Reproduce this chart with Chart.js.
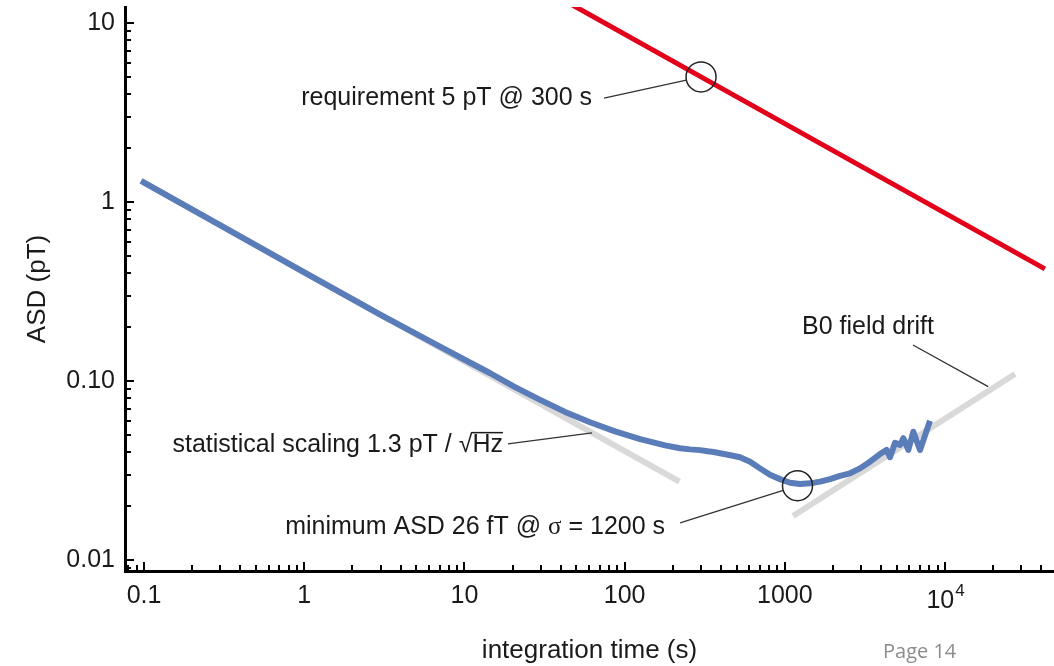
<!DOCTYPE html>
<html>
<head>
<meta charset="utf-8">
<title>ASD vs integration time</title>
<script src="https://cdn.jsdelivr.net/npm/chart.js@4.4.1/dist/chart.umd.min.js"></script>
<style>
  html, body { margin: 0; padding: 0; background: #fff; }
  #wrap { width: 1054px; height: 666px; position: relative; }
</style>
</head>
<body>
<div id="wrap"><canvas id="asd-chart"></canvas></div>
<script>
// Measured ASD (pT) against integration time (s)
const asdTime = [0.0958, 0.3, 1, 3, 5, 7.04, 10.1, 14.5, 20.7, 29.7, 42.5, 60.8, 87.1, 125, 179, 222,
  256, 296, 330, 360, 394, 450, 525, 607, 700, 808, 933, 1078, 1244, 1437, 1659, 1915, 2211,
  2553, 2947, 3402, 3929, 4326, 4536, 4875, 5237, 5493, 5902, 6341, 6982, 8061];
const asdValue = [1.311, 0.741, 0.405, 0.234, 0.1835, 0.1555, 0.131, 0.1105, 0.0925, 0.0785, 0.0672, 0.0588,
  0.0523, 0.0473, 0.0437, 0.0421, 0.0415, 0.0411, 0.0405, 0.0401, 0.0395, 0.0386, 0.0375, 0.0354,
  0.0325, 0.0299, 0.0283, 0.0270, 0.0266, 0.0268, 0.0274, 0.0283, 0.0295, 0.0305, 0.0325, 0.0354,
  0.0391, 0.0412, 0.0375, 0.0452, 0.0439, 0.0479, 0.0412, 0.0521, 0.0412, 0.0600];

// Statistical 1/sqrt(t) guide
const statTime = [0.1, 220];
const statASD = [1.283, 0.0274];

// B0 field drift guide
const driftTime = [1125, 27350];
const driftASD = [0.0176, 0.1095];

// Requirement line through 5 pT @ 300 s
const reqTime = [40, 300, 42000];
const reqASD = [13.7, 5, 0.423];

// Axis ranges and labelled ticks ('^' marks an exponent)
const xRange = [0.0761, 47900];
const yRange = [0.00868, 12.29];
const xTickValues = [0.1, 1, 10, 100, 1000, 10000];
const xTickLabels = ['0.1', '1', '10', '100', '1000', '10^4'];
const yTickValues = [0.01, 0.1, 1, 10];
const yTickLabels = ['0.01', '0.10', '1', '10'];

const sansFont = "'Liberation Sans', Arial, sans-serif";
const serifFont = "'Liberation Serif', 'Times New Roman', serif";
const ink = '#1a1a1a';

// Callouts: leader from `from` to `to`, optional ring around `to`
const callouts = [
  { parts: [['requirement 5 pT @ 300 s']], from: [74.4, 3.81], to: [300, 5], ring: true, dx: -12, dy: 0, align: 'right' },
  { parts: [['statistical scaling 1.3 pT / √Hz']], from: [18.7, 0.0445], to: [62.6, 0.0513], dx: -5, dy: 1, align: 'right', overline: 'Hz' },
  { parts: [['minimum ASD 26 fT @ '], ['σ', serifFont], [' = 1200 s']], from: [222, 0.0161], to: [1200, 0.026], ring: true, dx: -15, dy: 4, align: 'right' },
  { parts: [['B0 field drift']], from: [6310, 0.159], to: [18600, 0.093], dx: -45, dy: -18, align: 'center' },
];

const toPoints = (xs, ys) => xs.map((v, i) => ({ x: v, y: ys[i] }));

// inward major/minor tick marks on both log axes
const inwardTicks = {
  id: 'inwardTicks',
  afterDraw(chart) {
    const { ctx, chartArea: a, scales: { x, y } } = chart;
    ctx.save();
    ctx.strokeStyle = '#000';
    ctx.lineWidth = 2;
    ctx.beginPath();
    for (let e = -3; e <= 5; e++) {
      for (let m = 1; m <= 9; m++) {
        const v = m * Math.pow(10, e);
        const len = m === 1 ? 9 : 6;
        if (v >= x.min && v <= x.max) {
          const px = Math.round(x.getPixelForValue(v));
          ctx.moveTo(px, a.bottom);
          ctx.lineTo(px, a.bottom - len);
        }
        if (v >= y.min && v <= y.max) {
          const py = Math.round(y.getPixelForValue(v));
          ctx.moveTo(a.left, py);
          ctx.lineTo(a.left + len, py);
        }
      }
    }
    ctx.stroke();

    // tick labels with an exponent are set here, base plus raised power
    ctx.fillStyle = ink;
    ctx.textBaseline = 'middle';
    ctx.textAlign = 'left';
    xTickLabels.forEach((lab, i) => {
      if (!lab.includes('^')) return;
      const [base, pow] = lab.split('^');
      ctx.font = `25px ${sansFont}`;
      const wb = ctx.measureText(base).width;
      ctx.font = `17px ${sansFont}`;
      const wp = ctx.measureText(pow).width;
      const left = x.getPixelForValue(xTickValues[i]) - (wb + wp) / 2;
      const cy = a.bottom + 30;
      ctx.font = `25px ${sansFont}`;
      ctx.fillText(base, left, cy);
      ctx.font = `17px ${sansFont}`;
      ctx.fillText(pow, left + wb + 1, cy - 10);
    });
    ctx.restore();
  }
};

const calloutLabels = {
  id: 'calloutLabels',
  afterDatasetsDraw(chart) {
    const { ctx, scales: { x, y } } = chart;
    const R = 15;
    ctx.save();
    callouts.forEach(c => {
      const fx = x.getPixelForValue(c.from[0]);
      const fy = y.getPixelForValue(c.from[1]);
      let tx = x.getPixelForValue(c.to[0]);
      let ty = y.getPixelForValue(c.to[1]);
      if (c.ring) {
        ctx.beginPath();
        ctx.strokeStyle = '#222';
        ctx.lineWidth = 1.5;
        ctx.arc(tx, ty, R, 0, Math.PI * 2);
        ctx.stroke();
        const d = Math.hypot(tx - fx, ty - fy);
        tx -= (tx - fx) / d * R;
        ty -= (ty - fy) / d * R;
      }
      ctx.beginPath();
      ctx.strokeStyle = '#333';
      ctx.lineWidth = 1.3;
      ctx.moveTo(fx, fy);
      ctx.lineTo(tx, ty);
      ctx.stroke();

      // text, possibly in mixed fonts
      const size = 25;
      const widths = c.parts.map(p => {
        ctx.font = `${size}px ${p[1] || sansFont}`;
        return ctx.measureText(p[0]).width;
      });
      const total = widths.reduce((s, w) => s + w, 0);
      const ax = fx + c.dx;
      const my = fy + c.dy;
      let cx = c.align === 'right' ? ax - total : c.align === 'center' ? ax - total / 2 : ax;
      ctx.fillStyle = ink;
      ctx.textAlign = 'left';
      ctx.textBaseline = 'middle';
      c.parts.forEach((p, i) => {
        ctx.font = `${size}px ${p[1] || sansFont}`;
        ctx.fillText(p[0], cx, my);
        cx += widths[i];
      });
      if (c.overline) {
        ctx.font = `${size}px ${sansFont}`;
        const w = ctx.measureText(c.overline).width;
        const top = my - ctx.measureText('√').actualBoundingBoxAscent + 0.8;
        ctx.beginPath();
        ctx.strokeStyle = ink;
        ctx.lineWidth = 1.5;
        ctx.moveTo(cx - w - 1, top);
        ctx.lineTo(cx, top);
        ctx.stroke();
      }
    });
    ctx.restore();
  }
};

const pageLabel = {
  id: 'pageLabel',
  afterDraw(chart) {
    const { ctx } = chart;
    ctx.save();
    ctx.font = "20px 'Open Sans', sans-serif";
    ctx.fillStyle = '#8c8c8c';
    ctx.textAlign = 'left';
    ctx.textBaseline = 'alphabetic';
    ctx.fillText('Page 14', 883, 658);
    ctx.restore();
  }
};

new Chart(document.getElementById('asd-chart'), {
  type: 'line',
  data: {
    datasets: [
      { label: 'requirement', data: toPoints(reqTime, reqASD), borderColor: '#e2001a', borderWidth: 5, order: 0 },
      { label: 'ASD', data: toPoints(asdTime, asdValue), borderColor: '#5a7db9', borderWidth: 6, order: 1 },
      { label: 'statistical scaling', data: toPoints(statTime, statASD), borderColor: '#d9d9d9', borderWidth: 6, order: 2 },
      { label: 'B0 drift', data: toPoints(driftTime, driftASD), borderColor: '#d9d9d9', borderWidth: 6, order: 2 },
    ],
  },
  options: {
    responsive: true,
    maintainAspectRatio: false,
    animation: false,
    layout: { padding: { top: 7, left: 0, right: 0, bottom: 0 } },
    elements: {
      point: { radius: 0, hoverRadius: 0 },
      line: { tension: 0, fill: false, borderCapStyle: 'butt', borderJoinStyle: 'round' },
    },
    datasets: { line: { clip: 0 } },
    plugins: { legend: { display: false }, tooltip: { enabled: false } },
    scales: {
      x: {
        type: 'logarithmic',
        bounds: 'data',
        min: xRange[0],
        max: xRange[1],
        afterBuildTicks: s => { s.ticks = xTickValues.map(v => ({ value: v })); },
        afterFit: s => { s.height = 95; s.paddingLeft = 0; s.paddingRight = 0; },
        grid: { display: false, drawTicks: false },
        border: { display: true, color: '#000', width: 3 },
        ticks: {
          autoSkip: false,
          maxRotation: 0,
          padding: 10,
          color: ink,
          font: { family: sansFont, size: 25 },
          callback: (v, i) => (xTickLabels[i].includes('^') ? '' : xTickLabels[i]),
        },
        title: {
          display: true,
          text: 'integration time (s)',
          color: ink,
          font: { family: sansFont, size: 26 },
          padding: { top: 0, bottom: 0 },
        },
      },
      y: {
        type: 'logarithmic',
        bounds: 'data',
        min: yRange[0],
        max: yRange[1],
        afterBuildTicks: s => { s.ticks = yTickValues.map(v => ({ value: v })); },
        afterFit: s => { s.width = 125; s.paddingTop = 0; s.paddingBottom = 0; },
        grid: { display: false, drawTicks: false },
        border: { display: true, color: '#000', width: 3 },
        ticks: {
          autoSkip: false,
          padding: 10,
          color: ink,
          font: { family: sansFont, size: 25 },
          callback: (v, i) => yTickLabels[i],
        },
        title: {
          display: true,
          text: 'ASD (pT)',
          color: ink,
          font: { family: sansFont, size: 26 },
          padding: { top: 22, bottom: 0 },
        },
      },
    },
  },
  plugins: [inwardTicks, calloutLabels, pageLabel],
});
</script>
</body>
</html>
